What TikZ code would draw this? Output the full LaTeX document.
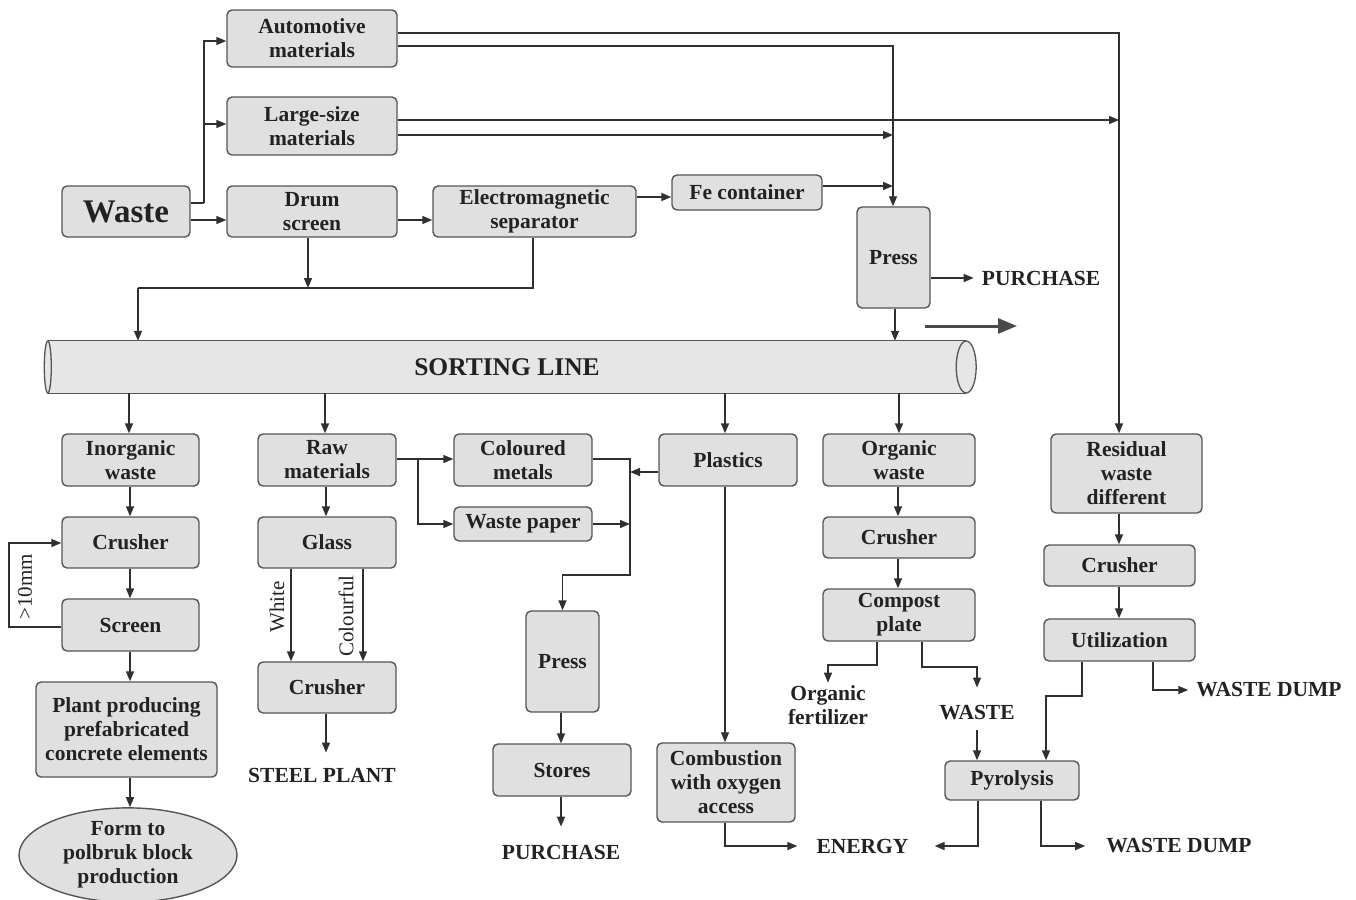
\documentclass[tikz,border=0pt]{standalone}
\usepackage{fontspec}
\setmainfont{Liberation Serif}
\usetikzlibrary{arrows.meta,shapes.geometric,calc}
\definecolor{boxfill}{HTML}{E0E0E0}
\definecolor{boxline}{HTML}{555555}
\definecolor{linecol}{HTML}{303030}
\definecolor{txtcol}{HTML}{222222}
\definecolor{tubefill}{HTML}{E6E6E6}
\definecolor{bigarrow}{HTML}{4A4A4A}
\tikzset{
  box/.style={draw=boxline, fill=boxfill, line width=1.4pt, rounded corners=5pt, inner sep=0pt, align=center, text=txtcol, font=\fontsize{21.5}{24}\selectfont\bfseries},
  oval/.style={ellipse, draw=boxline, fill=boxfill, line width=1.4pt, inner sep=0pt, align=center, text=txtcol, font=\fontsize{21.5}{24}\selectfont\bfseries},
  lbl/.style={inner sep=0pt, align=center, text=txtcol, font=\fontsize{21.5}{24}\selectfont\bfseries},
  side/.style={inner sep=0pt, text=txtcol, font=\fontsize{21}{24}\selectfont, rotate=90},
  arr/.style={draw=linecol, line width=1.5pt, -{Triangle[length=10pt,width=8pt]}},
  ln/.style={draw=linecol, line width=1.5pt},
  tube/.style={draw=boxline, line width=1.3pt},
  flow/.style={draw=bigarrow, line width=3pt, -{Triangle[length=19pt,width=15pt]}}
}
\begin{document}
\begin{tikzpicture}[x=1pt,y=-1pt]
\useasboundingbox (0,0) rectangle (1356,899);

% ---- top nodes
\node[box, minimum width=128pt, minimum height=51pt, font=\fontsize{33}{36}\selectfont\bfseries] (waste) at (126,211.5) {Waste};
\node[box, minimum width=170pt, minimum height=57pt] (auto) at (312,38.5) {Automotive\\materials};
\node[box, minimum width=170pt, minimum height=58pt] (large) at (312,126) {Large-size\\materials};
\node[box, minimum width=170pt, minimum height=51pt] (drum) at (312,211.5) {Drum\\screen};
\node[box, minimum width=203pt, minimum height=51pt] (electro) at (534.5,211.5) {Electromagnetic\\separator};
\node[box, minimum width=150pt, minimum height=35pt] (fe) at (747,192.5) {Fe container};
\node[box, minimum width=73pt, minimum height=101pt] (press1) at (893.5,257.5) {Press};
\node[lbl] (purch1) at (1041,278) {PURCHASE};

% ---- sorting line
\node[minimum width=918pt, minimum height=52pt, inner sep=0pt] (sort) at (507,367) {};
\fill[tubefill] (sort.north west) rectangle (sort.south east);
\draw[tube] (sort.north west) -- (sort.north east);
\draw[tube] (sort.south west) -- (sort.south east);
\draw[tube, fill=tubefill] (sort.east) ellipse [x radius=10pt, y radius=26pt];
\draw[tube, fill=tubefill] (sort.west) ellipse [x radius=3.5pt, y radius=26pt];
\node[lbl, font=\fontsize{25.5}{28}\selectfont\bfseries] (sortlbl) at (sort.center) {SORTING LINE};

% ---- column 1
\node[box, minimum width=137pt, minimum height=52pt] (inorg) at (130.5,460) {Inorganic\\waste};
\node[box, minimum width=137pt, minimum height=51pt] (crush1) at (130.5,542.5) {Crusher};
\node[box, minimum width=137pt, minimum height=52pt] (screen) at (130.5,625) {Screen};
\node[box, minimum width=181pt, minimum height=95pt] (plant) at (126.5,729.5) {Plant producing\\prefabricated\\concrete elements};
\node[oval, minimum width=218pt, minimum height=92pt] (form) at (128,855) {Form to\\polbruk block\\production};
\node[side] (mm) at (25,587) {>10mm};

% ---- column 2
\node[box, minimum width=138pt, minimum height=52pt] (raw) at (327,460) {Raw\\materials};
\node[box, minimum width=138pt, minimum height=51pt] (glass) at (327,542.5) {Glass};
\node[box, minimum width=138pt, minimum height=51pt] (crush2) at (327,687.5) {Crusher};
\node[lbl] (steel) at (322,775) {STEEL PLANT};
\node[side] (white) at (277,607) {White};
\node[side] (colourful) at (346,616) {Colourful};

% ---- column 3/4
\node[box, minimum width=138pt, minimum height=52pt] (colm) at (523,460) {Coloured\\metals};
\node[box, minimum width=138pt, minimum height=34pt] (paper) at (523,524) {Waste paper};
\node[box, minimum width=138pt, minimum height=52pt] (plastics) at (728,460) {Plastics};
\node[box, minimum width=73pt, minimum height=101pt] (press2) at (562.5,661.5) {Press};
\node[box, minimum width=138pt, minimum height=52pt] (stores) at (562,770) {Stores};
\node[lbl] (purch2) at (561,852) {PURCHASE};
\node[box, minimum width=138pt, minimum height=79pt] (comb) at (726,782.5) {Combustion\\with oxygen\\access};
\node[lbl] (energy) at (862.5,846) {ENERGY};

% ---- column 5
\node[box, minimum width=152pt, minimum height=52pt] (organic) at (899,460) {Organic\\waste};
\node[box, minimum width=152pt, minimum height=41pt] (crush3) at (899,537.5) {Crusher};
\node[box, minimum width=152pt, minimum height=52pt] (compost) at (899,615) {Compost\\plate};
\node[lbl] (orgfert) at (828,705.5) {Organic\\fertilizer};
\node[lbl] (wastetxt) at (977,713) {WASTE};
\node[box, minimum width=134pt, minimum height=39pt] (pyro) at (1012,780.5) {Pyrolysis};

% ---- column 6
\node[box, minimum width=151pt, minimum height=79pt] (resid) at (1126.5,473.5) {Residual\\waste\\different};
\node[box, minimum width=151pt, minimum height=41pt] (crush4) at (1119.5,565.5) {Crusher};
\node[box, minimum width=151pt, minimum height=42pt] (util) at (1119.5,640) {Utilization};
\node[lbl] (dump1) at (1269,690) {WASTE DUMP};
\node[lbl] (dump2) at (1179,846) {WASTE DUMP};

% ---- flow direction arrow
\coordinate (flowA) at (925,326);
\coordinate (flowB) at (1017,326);
\draw[flow] (flowA) -- (flowB);

% ---- top connectors
\draw[ln] (waste.east |- 0,203) -- (204,203);
\draw[arr] (204,203) |- (auto.west |- 0,41);
\draw[arr] (204,124) -- (large.west |- 0,124);
\draw[arr] (waste.east |- 0,220) -- (drum.west |- 0,220);
\draw[arr] (drum.east |- 0,220) -- (electro.west |- 0,220);
\draw[arr] (electro.east |- 0,197) -- (fe.west |- 0,197);
\draw[arr] (fe.east |- 0,186) -- (893,186);
\draw[arr] (auto.east |- 0,33) -- (1119,33) -- (1119,0 |- resid.north);
\draw[arr] (auto.east |- 0,46) -- (893,46) -- (893,0 |- press1.north);
\draw[arr] (large.east |- 0,120) -- (1119,120);
\draw[arr] (large.east |- 0,135) -- (893,135);
\draw[arr] (press1.east |- purch1.west) -- ($(purch1.west)+(-8,0)$);
\draw[arr] (895,0 |- press1.south) -- (895,0 |- sort.north);
\draw[arr] (308,0 |- drum.south) -- (308,288);
\draw[ln] (533,0 |- electro.south) -- (533,288) -- (138,288);
\draw[arr] (138,288) -- (138,0 |- sort.north);

% ---- sorting line outputs
\draw[arr] (129,0 |- sort.south) -- (129,0 |- inorg.north);
\draw[arr] (325,0 |- sort.south) -- (325,0 |- raw.north);
\draw[arr] (725,0 |- sort.south) -- (725,0 |- plastics.north);
\draw[arr] (899,0 |- sort.south) -- (899,0 |- organic.north);

% ---- column 1 connectors
\draw[arr] (130,0 |- inorg.south) -- (130,0 |- crush1.north);
\draw[arr] (130,0 |- crush1.south) -- (130,0 |- screen.north);
\draw[arr] (130,0 |- screen.south) -- (130,0 |- plant.north);
\draw[arr] (130,0 |- plant.south) -- (130,0 |- form.north);
\draw[arr] (screen.west |- 0,627) -- (9,627) -- (9,543) -- (crush1.west |- 0,543);

% ---- column 2 connectors
\draw[arr] (326,0 |- raw.south) -- (326,0 |- glass.north);
\draw[arr] (291,0 |- glass.south) -- (291,0 |- crush2.north);
\draw[arr] (363,0 |- glass.south) -- (363,0 |- crush2.north);
\draw[arr] (326,0 |- crush2.south) -- ($(326,0 |- steel.north)+(0,-15)$);
\draw[arr] (raw.east |- 0,459) -- (colm.west |- 0,459);
\draw[arr] (418,459) |- (paper.west);

% ---- column 3/4 connectors
\draw[arr] (colm.east |- 0,459) -- (630,459) -- (630,575) -| (press2.north);
\draw[arr] (plastics.west |- 0,472) -- (630,472);
\draw[arr] (paper.east) -- (630,0 |- paper.east);
\draw[arr] (561,0 |- press2.south) -- (561,0 |- stores.north);
\draw[arr] (561,0 |- stores.south) -- ($(purch2.north)+(0,-18)$);
\draw[arr] (725,0 |- plastics.south) -- (725,0 |- comb.north);
\draw[arr] (725,0 |- comb.south) |- ($(energy.west)+(-19,0)$);

% ---- column 5 connectors
\draw[arr] (898,0 |- organic.south) -- (898,0 |- crush3.north);
\draw[arr] (898,0 |- crush3.south) -- (898,0 |- compost.north);
\draw[arr] (877,0 |- compost.south) -- (877,665) -| ($(orgfert.north)+(0,-3)$);
\draw[arr] (922,0 |- compost.south) -- (922,667) -| ($(wastetxt.north)+(0,-18)$);
\draw[arr] ($(wastetxt.south)+(0,10)$) -- (wastetxt.south |- pyro.north);
\draw[arr] (978,0 |- pyro.south) |- ($(energy.east)+(26,0)$);
\draw[arr] (1041,0 |- pyro.south) |- ($(dump2.west)+(-21,0)$);

% ---- column 6 connectors
\draw[arr] (1119,0 |- resid.south) -- (1119,0 |- crush4.north);
\draw[arr] (1119,0 |- crush4.south) -- (1119,0 |- util.north);
\draw[arr] (1082,0 |- util.south) -- (1082,696) -| (1046,0 |- pyro.north);
\draw[arr] (1153,0 |- util.south) |- ($(dump1.west)+(-8,0)$);
\end{tikzpicture}
\end{document}
